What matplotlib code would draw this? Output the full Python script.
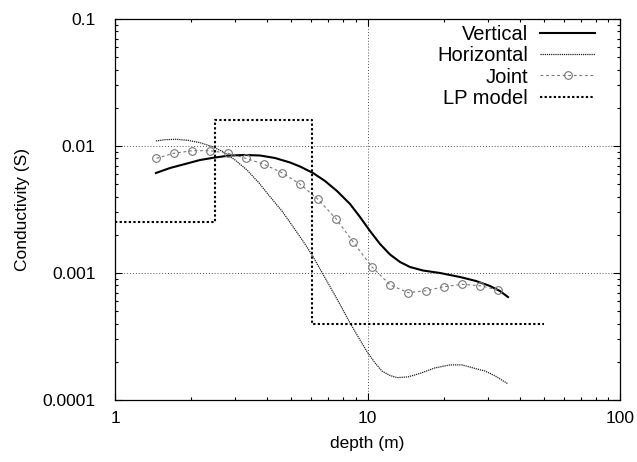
import matplotlib
matplotlib.use("Agg")
import matplotlib.pyplot as plt
from matplotlib.ticker import LogLocator, NullFormatter, FixedLocator, FixedFormatter

plt.rcParams['font.family'] = ['Liberation Sans', 'DejaVu Sans']

# Vertical inversion
vert_x = [1.453, 1.651, 1.894, 2.171, 2.489, 2.854, 3.273, 3.752, 4.302, 4.933, 5.404, 6.084,
          6.786, 7.573, 8.527, 9.339, 10.23, 11.21, 12.28, 13.45, 14.73, 16.59, 19.37, 23.25,
          26.90, 30.56, 33.47, 36.01]
vert_y = [0.006131, 0.006709, 0.007215, 0.007757, 0.008118, 0.008418, 0.008494, 0.008418,
          0.008045, 0.007416, 0.006897, 0.006131, 0.005303, 0.004421, 0.003494, 0.002760,
          0.002142, 0.001692, 0.001398, 0.001221, 0.001115, 0.001046, 0.001000, 0.000930,
          0.000865, 0.000790, 0.000721, 0.000647]

# Horizontal inversion
hor_x = [1.453, 1.578, 1.744, 1.946, 2.171, 2.422, 2.678, 2.987, 3.333, 3.719, 4.111, 4.585,
         5.070, 5.655, 6.084, 6.975, 7.784, 8.527, 9.339, 9.954, 10.71, 11.41, 12.28, 13.09,
         14.47, 16.14, 18.51, 21.22, 23.67, 26.17, 29.20, 31.99, 36.01]
hor_y = [0.01095, 0.01121, 0.01129, 0.01109, 0.01062, 0.00991, 0.00902, 0.007757, 0.006471,
         0.005114, 0.003990, 0.003077, 0.002315, 0.001692, 0.001344, 0.000834, 0.000565,
         0.000404, 0.000297, 0.000240, 0.000196, 0.000169, 0.000156, 0.000150, 0.000152,
         0.000162, 0.000179, 0.000189, 0.000189, 0.000179, 0.000169, 0.000155, 0.000134]

# Joint inversion
joint_x = [1.46, 1.71, 2.02, 2.38, 2.81, 3.29, 3.89, 4.58, 5.40, 6.37, 7.5, 8.78, 10.4, 12.3,
           14.5, 17.1, 20.1, 23.7, 27.9, 32.9]
joint_y = [0.0080, 0.00876, 0.00918, 0.00918, 0.00876, 0.0080, 0.00718, 0.00616, 0.00502, 0.0038,
           0.00268, 0.00175, 0.00112, 0.000805, 0.0007, 0.000726, 0.00078, 0.000815, 0.000794, 0.000735]

# LP model (step profile)
lp_x = [1.0, 2.49, 2.49, 6.03, 6.03, 50.0]
lp_y = [0.0025, 0.0025, 0.016, 0.016, 0.0004, 0.0004]

fig = plt.figure(figsize=(6.37, 4.62), dpi=100)
ax = fig.add_axes([115/637, 1-400/462, 505/637, 381/462])

ax.plot(vert_x, vert_y, color='black', lw=1.5, label='Vertical')
ax.plot(hor_x, hor_y, color='#222222', lw=0.9, ls=(0, (1, 0.7)), label='Horizontal')
ax.plot(joint_x, joint_y, color='#777777', lw=0.8, ls=(0, (2.5, 2.5)), marker='o',
        markersize=5.5, markerfacecolor='none', markeredgecolor='#777777', markeredgewidth=0.8,
        label='Joint')
ax.plot(lp_x, lp_y, color='black', lw=1.5, ls=(0, (1.1, 1.1)), label='LP model')

ax.set_xscale('log')
ax.set_yscale('log')
ax.set_xlim(1, 100)
ax.set_ylim(0.0001, 0.1)

ax.xaxis.set_major_locator(FixedLocator([1, 10, 100]))
ax.xaxis.set_major_formatter(FixedFormatter(['1', '10', '100']))
ax.xaxis.set_minor_locator(LogLocator(base=10, subs=range(2, 10)))
ax.xaxis.set_minor_formatter(NullFormatter())
ax.yaxis.set_major_locator(FixedLocator([0.0001, 0.001, 0.01, 0.1]))
ax.yaxis.set_major_formatter(FixedFormatter(['0.0001', '0.001', '0.01', '0.1']))
ax.yaxis.set_minor_locator(LogLocator(base=10, subs=range(2, 10)))
ax.yaxis.set_minor_formatter(NullFormatter())

ax.tick_params(which='both', direction='in', top=True, right=True, labelsize=12.5, color='black')
ax.tick_params(which='major', length=5, width=0.8)
ax.tick_params(which='minor', length=2.5, width=0.8)
ax.tick_params(axis='x', which='major', pad=8)
ax.tick_params(axis='y', which='major', pad=14)

ax.grid(True, which='major', color='#555555', lw=0.7, ls=(0, (1, 2)))
for s in ax.spines.values():
    s.set_linewidth(0.9)

ax.set_xlabel('depth (m)', fontsize=12.5, labelpad=7)
ax.set_ylabel('Conductivity (S)', fontsize=12.5, labelpad=9)

leg = ax.legend(loc='upper right', markerfirst=False, frameon=False, fontsize=14.5,
                handlelength=2.75, handletextpad=0.6, labelspacing=0.12, numpoints=1,
                borderaxespad=0.0, borderpad=0.0, bbox_to_anchor=(0.951, 0.985))

fig.savefig('out.png', dpi=100)
